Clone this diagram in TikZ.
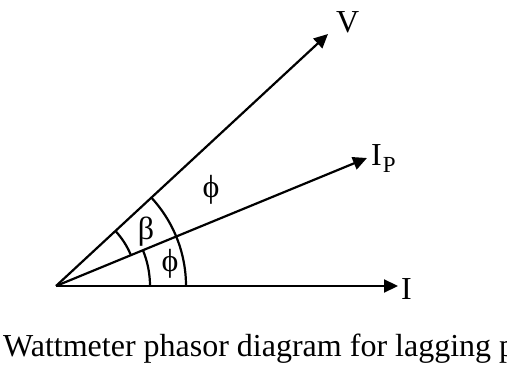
\documentclass[tikz,border=0pt]{standalone}
\usepackage{fontspec}
\setmainfont{Liberation Serif}
\usetikzlibrary{arrows.meta}
\begin{document}
\begin{tikzpicture}[x=1pt,y=1pt,
  phasor/.style={line width=2.2pt, -{Triangle[length=14pt,width=13pt]}},
  arcline/.style={line width=2.2pt},
  lbl/.style={font=\fontsize{32}{34}\selectfont, inner sep=0pt}]
\useasboundingbox (0,0) rectangle (507,365);
\coordinate (O) at (56,79);
\coordinate (Vt) at (328,331);
\coordinate (Pt) at (367,207);
\coordinate (It) at (398,79);
\draw[phasor] (O) -- (Vt);
\draw[phasor] (O) -- (Pt);
\draw[phasor] (O) -- (It);
\draw[arcline] ([shift={(0:130)}]O) arc[start angle=0, end angle=42.8, radius=130];
\draw[arcline] ([shift={(0:94)}]O) arc[start angle=0, end angle=22.4, radius=94];
\draw[arcline] ([shift={(22.4:81)}]O) arc[start angle=22.4, end angle=42.8, radius=81];
\node[lbl, anchor=base west] (lV) at (336,332) {V};
\node[lbl, anchor=base west] (lP) at (371,200) {I\kern1pt\raisebox{-8pt}{\fontsize{23}{25}\selectfont P}};
\node[lbl, anchor=base west] (lI) at (401,66) {I};
\node[lbl] (beta) at (146,133) {β};
\node[lbl] (phi1) at (170,101) {ϕ};
\node[lbl] (phi2) at (211,175) {ϕ};
\node[lbl, anchor=base west] (cap) at (3,9) {Wattmeter phasor diagram for lagging p};
\end{tikzpicture}
\end{document}
